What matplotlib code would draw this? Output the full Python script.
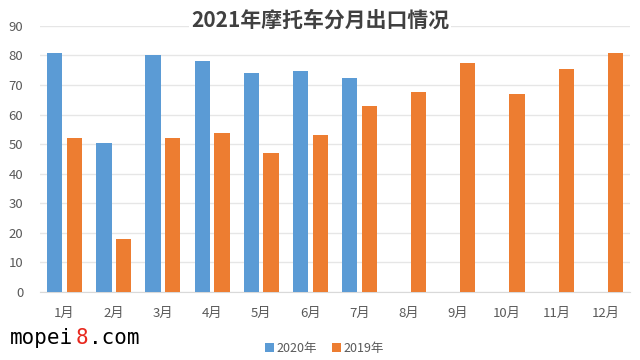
import matplotlib.pyplot as plt
import numpy as np

plt.rcParams['font.family'] = ['Noto Sans CJK SC', 'DejaVu Sans']

# 月份和两年的出口数据
months = ['1月', '2月', '3月', '4月', '5月', '6月', '7月', '8月', '9月', '10月', '11月', '12月']
y2020 = [81, 50.5, 80.2, 78.3, 74, 74.8, 72.3, None, None, None, None, None]
y2019 = [52, 17.9, 52, 53.8, 47, 53, 63, 67.6, 77.5, 67, 75.5, 80.7]
yticks = list(range(0, 100, 10))

blue = '#5B9BD5'
orange = '#ED7D31'

fig = plt.figure(figsize=(6.4, 3.6), dpi=100)
ax = fig.add_axes([0.0625, 0.189, 0.922, 0.739])

x = np.arange(len(months))
w = 0.31
off = 0.2
x20 = [i for i, v in zip(x, y2020) if v is not None]
v20 = [v for v in y2020 if v is not None]
ax.bar(np.array(x20) - off, v20, width=w, color=blue, label='2020年', zorder=3)
ax.bar(x + off, y2019, width=w, color=orange, label='2019年', zorder=3)

ax.set_xlim(-0.5, 11.5)
ax.set_ylim(0, 90)
ax.set_yticks(yticks)
ax.set_xticks(x)
ax.set_xticklabels(months)
ax.grid(axis='y', color='#e6e6e6', linewidth=1, zorder=0)
for s in ['top', 'right', 'left']:
    ax.spines[s].set_visible(False)
ax.spines['bottom'].set_color('#d9d9d9')
ax.tick_params(axis='both', length=0, labelsize=9.5, colors='#595959')
ax.tick_params(axis='x', pad=11)
ax.tick_params(axis='y', pad=12)

# 标题（白底盖住90的网格线）
fig.text(0.5, 0.945, '2021年摩托车分月出口情况', ha='center', va='center',
         fontsize=15, fontweight='bold', color='#404040',
         bbox=dict(facecolor='white', edgecolor='none', pad=1))

fig.legend(loc='center', bbox_to_anchor=(0.507, 0.033), ncol=2, frameon=False,
           fontsize=9, handlelength=0.7, handleheight=0.7, handletextpad=0.2,
           columnspacing=1.2, labelcolor='#595959')

# 水印
fig.text(0.016, 0.062, 'mopei', fontsize=15, family='DejaVu Sans Mono', color='black', va='center')
fig.text(0.016 + 5 * 0.0204, 0.062, '8', fontsize=15, family='DejaVu Sans Mono', color='#e8281e', va='center')
fig.text(0.016 + 6 * 0.0204, 0.062, '.com', fontsize=15, family='DejaVu Sans Mono', color='black', va='center')

fig.savefig('out.png', dpi=100)
